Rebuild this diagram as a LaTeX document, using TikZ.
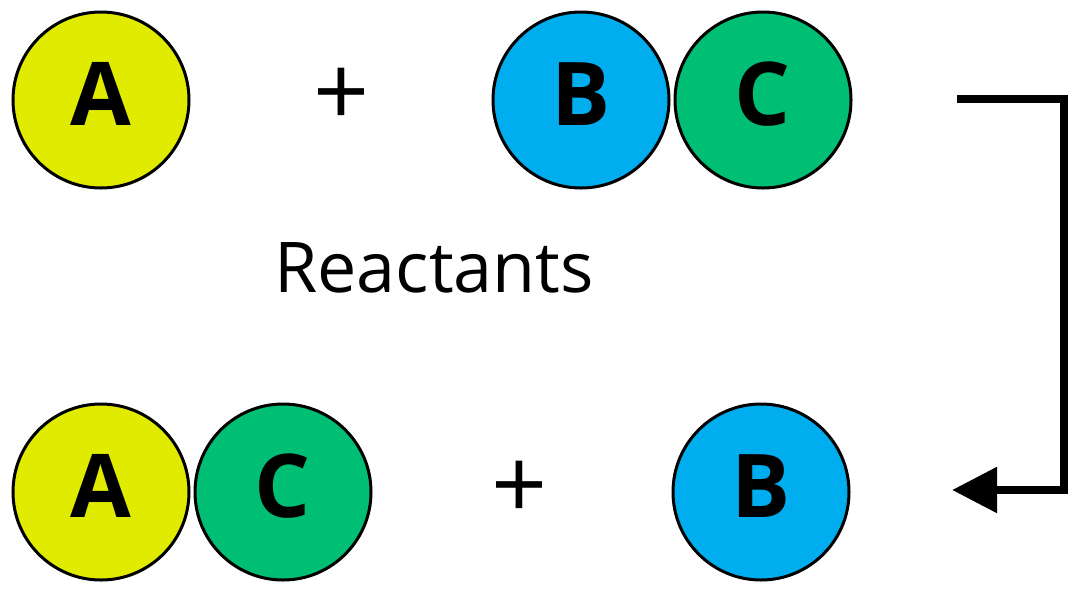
\documentclass[tikz,border=0pt]{standalone}
\usepackage{fontspec}
\setmainfont{Open Sans}
\usetikzlibrary{arrows.meta}
\definecolor{atomA}{RGB}{225,235,0}
\definecolor{atomB}{RGB}{0,174,239}
\definecolor{atomC}{RGB}{0,190,115}
\tikzset{
  atom/.style={circle,draw=black,line width=3pt,minimum size=176pt,inner sep=0pt,
    text height=50pt,text depth=0pt,
    font=\fontsize{88}{88}\selectfont\bfseries},
  plussign/.style={inner sep=0pt,font=\fontsize{98}{98}\selectfont},
  label/.style={inner sep=0pt,font=\fontsize{70}{70}\selectfont},
  flow/.style={line width=8.5pt,-{Triangle[length=45pt,width=44pt]}}
}
\begin{document}
\begin{tikzpicture}[x=1pt,y=-1pt]
\useasboundingbox (0,0) rectangle (1089,598);
\node[atom,fill=atomA] (a1) at (101,100) {A};
\node[plussign] (p1) at (342,97) {+};
\node[atom,fill=atomB] (b1) at (581,100) {B};
\node[atom,fill=atomC] (c1) at (763,100) {C};
\node[label,anchor=base] (r) at (434,292) {Reactants};
\node[atom,fill=atomA] (a2) at (101,492) {A};
\node[atom,fill=atomC] (c2) at (283,492) {C};
\node[plussign] (p2) at (520,490) {+};
\node[atom,fill=atomB] (b2) at (761,492) {B};
\coordinate (s) at (957,99);
\coordinate (k1) at (1064,99);
\coordinate (k2) at (1064,490);
\coordinate (e) at (952,490);
\draw[flow] (s) -- (k1) -- (k2) -- (e);
\end{tikzpicture}
\end{document}
